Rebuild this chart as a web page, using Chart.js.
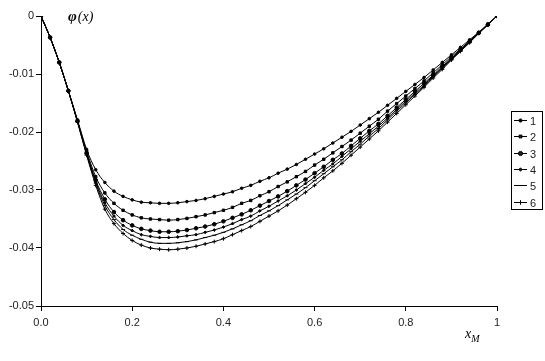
<!DOCTYPE html>
<html>
<head>
<meta charset="utf-8">
<script src="https://cdn.jsdelivr.net/npm/chart.js@4.4.0/dist/chart.umd.min.js"></script>
<style>
  html, body { margin: 0; padding: 0; background: #fff; }
  #wrap { width: 545px; height: 361px; position: relative; }
</style>
</head>
<body>
<div id="wrap"><canvas id="phiChart"></canvas></div>
<script>
// x grid (x_M)
const xValues = [0, 0.02, 0.04, 0.06, 0.08, 0.10, 0.12, 0.14, 0.16, 0.18,
  0.20, 0.22, 0.24, 0.26, 0.28, 0.30, 0.32, 0.34, 0.36, 0.38,
  0.40, 0.42, 0.44, 0.46, 0.48, 0.50, 0.52, 0.54, 0.56, 0.58,
  0.60, 0.62, 0.64, 0.66, 0.68, 0.70, 0.72, 0.74, 0.76, 0.78,
  0.80, 0.82, 0.84, 0.86, 0.88, 0.90, 0.92, 0.94, 0.96, 0.98, 1.00];

// phi(x) for curves 1..6
const phi1 = [0, -0.0037, -0.0080, -0.0129, -0.0179, -0.0230, -0.0265, -0.0287, -0.0302, -0.0311,
  -0.0317, -0.0321, -0.0322, -0.0323, -0.0323, -0.0322, -0.0320, -0.0318, -0.0315, -0.0311,
  -0.0307, -0.0303, -0.0297, -0.0292, -0.0285, -0.0279, -0.0271, -0.0264, -0.0256, -0.0247,
  -0.0238, -0.0229, -0.0219, -0.0209, -0.0199, -0.0188, -0.0177, -0.0166, -0.0154, -0.0142,
  -0.0130, -0.0118, -0.0106, -0.0093, -0.0080, -0.0067, -0.0054, -0.0041, -0.0028, -0.0014, 0];
const phi2 = [0, -0.0037, -0.0080, -0.0129, -0.0181, -0.0233, -0.0277, -0.0305, -0.0323, -0.0335,
  -0.0343, -0.0348, -0.0350, -0.0351, -0.0352, -0.0351, -0.0349, -0.0346, -0.0343, -0.0339,
  -0.0335, -0.0330, -0.0323, -0.0318, -0.0310, -0.0303, -0.0294, -0.0286, -0.0277, -0.0268,
  -0.0257, -0.0247, -0.0236, -0.0225, -0.0214, -0.0202, -0.0190, -0.0178, -0.0164, -0.0151,
  -0.0138, -0.0125, -0.0112, -0.0098, -0.0084, -0.0070, -0.0057, -0.0043, -0.0029, -0.0014, 0];
const phi3 = [0, -0.0037, -0.0080, -0.0129, -0.0181, -0.0236, -0.0283, -0.0316, -0.0338, -0.0352,
  -0.0361, -0.0367, -0.0370, -0.0372, -0.0372, -0.0371, -0.0369, -0.0366, -0.0363, -0.0359,
  -0.0354, -0.0348, -0.0342, -0.0335, -0.0327, -0.0319, -0.0311, -0.0302, -0.0292, -0.0282,
  -0.0271, -0.0260, -0.0248, -0.0237, -0.0224, -0.0211, -0.0198, -0.0186, -0.0172, -0.0158,
  -0.0144, -0.0130, -0.0116, -0.0102, -0.0087, -0.0073, -0.0058, -0.0044, -0.0029, -0.0015, 0];
const phi4 = [0, -0.0037, -0.0080, -0.0129, -0.0182, -0.0237, -0.0286, -0.0322, -0.0345, -0.0361,
  -0.0370, -0.0377, -0.0380, -0.0382, -0.0382, -0.0381, -0.0379, -0.0377, -0.0373, -0.0369,
  -0.0364, -0.0358, -0.0351, -0.0345, -0.0336, -0.0328, -0.0319, -0.0310, -0.0300, -0.0289,
  -0.0278, -0.0266, -0.0255, -0.0242, -0.0229, -0.0216, -0.0203, -0.0190, -0.0176, -0.0161,
  -0.0147, -0.0133, -0.0119, -0.0103, -0.0089, -0.0074, -0.0059, -0.0045, -0.0029, -0.0015, 0];
const phi5 = [0, -0.0037, -0.0080, -0.0129, -0.0182, -0.0238, -0.0288, -0.0327, -0.0351, -0.0368,
  -0.0378, -0.0385, -0.0390, -0.0392, -0.0392, -0.0391, -0.0389, -0.0386, -0.0382, -0.0378,
  -0.0373, -0.0367, -0.0360, -0.0353, -0.0344, -0.0336, -0.0327, -0.0317, -0.0307, -0.0296,
  -0.0284, -0.0272, -0.0260, -0.0248, -0.0234, -0.0221, -0.0207, -0.0194, -0.0179, -0.0164,
  -0.0150, -0.0135, -0.0121, -0.0105, -0.0090, -0.0075, -0.0060, -0.0045, -0.0030, -0.0015, 0];
const phi6 = [0, -0.0037, -0.0080, -0.0129, -0.0183, -0.0240, -0.0292, -0.0333, -0.0358, -0.0375,
  -0.0387, -0.0395, -0.0400, -0.0402, -0.0403, -0.0402, -0.0400, -0.0397, -0.0393, -0.0389,
  -0.0384, -0.0377, -0.0370, -0.0363, -0.0354, -0.0345, -0.0336, -0.0326, -0.0315, -0.0304,
  -0.0292, -0.0279, -0.0267, -0.0254, -0.0240, -0.0226, -0.0212, -0.0198, -0.0183, -0.0168,
  -0.0153, -0.0138, -0.0123, -0.0107, -0.0092, -0.0076, -0.0061, -0.0046, -0.0030, -0.0015, 0];

const seriesNames = ['1', '2', '3', '4', '5', '6'];
const seriesValues = [phi1, phi2, phi3, phi4, phi5, phi6];
const markerStyles = ['circle', 'rect', 'circle', 'rectRot', 'line', 'cross'];
const markerSizes = [1.3, 1.7, 1.8, 1.4, 2, 2];

const yTicks = [0, -0.01, -0.02, -0.03, -0.04, -0.05];
const xTicks = [0, 0.2, 0.4, 0.6, 0.8, 1];

const tickFont = { family: "'Liberation Sans', Arial, sans-serif", size: 11 };

// Legend box with border, drawn by hand to match the original
const boxLegend = {
    id: 'boxLegend',
    afterDatasetsDraw(chart) {
        const ctx = chart.ctx;
        const left = 511.5, top = 111.5, w = 31, h = 98;
        ctx.save();
        ctx.strokeStyle = '#000';
        ctx.lineWidth = 1;
        ctx.strokeRect(left, top, w, h);
        ctx.font = "11px 'Liberation Sans', Arial, sans-serif";
        ctx.textBaseline = 'middle';
        chart.data.datasets.forEach((ds, i) => {
            const y = Math.round(120 + i * 16.3) + 0.5;
            ctx.beginPath();
            ctx.moveTo(514, y);
            ctx.lineTo(527, y);
            ctx.strokeStyle = '#000';
            ctx.lineWidth = 1;
            ctx.stroke();
            Chart.helpers.drawPoint(ctx, {
                pointStyle: ds.pointStyle, radius: ds.pointRadius + 0.3, rotation: 0, borderWidth: 1
            }, 520.5, y);
            ctx.fillStyle = '#222';
            ctx.fillText(ds.label, 530, y + 1);
        });
        ctx.restore();
    }
};

// Axis titles: phi(x) and x_M
const axisTitles = {
    id: 'axisTitles',
    afterDraw(chart) {
        const ctx = chart.ctx;
        ctx.save();
        ctx.fillStyle = '#000';
        ctx.textBaseline = 'alphabetic';
        ctx.font = "bold italic 15px 'Liberation Serif', 'Times New Roman', serif";
        ctx.fillText('φ', 68, 21);
        const pw = ctx.measureText('φ').width;
        ctx.font = "italic 14px 'Liberation Serif', 'Times New Roman', serif";
        ctx.fillText('(x)', 68 + pw + 1, 21);

        ctx.font = "italic 14px 'Liberation Serif', 'Times New Roman', serif";
        ctx.fillText('x', 465, 338);
        const xw = ctx.measureText('x').width;
        ctx.font = "italic 10px 'Liberation Serif', 'Times New Roman', serif";
        ctx.fillText('M', 465 + xw, 342);
        ctx.restore();
    }
};

const datasets = seriesValues.map((vals, i) => ({
    label: seriesNames[i],
    data: xValues.map((x, j) => ({ x: x, y: vals[j] })),
    borderColor: '#000',
    backgroundColor: '#000',
    borderWidth: 1,
    pointStyle: markerStyles[i],
    pointRadius: markerSizes[i],
    pointBorderWidth: 1,
    pointBorderColor: '#000',
    pointBackgroundColor: '#000',
    cubicInterpolationMode: 'monotone',
    fill: false
}));

const ctx = document.getElementById('phiChart').getContext('2d');
const phiChart = new Chart(ctx, {
    type: 'line',
    data: { datasets: datasets },
    options: {
        responsive: true,
        maintainAspectRatio: false,
        animation: false,
        layout: { padding: { top: 16, right: 48, left: 0, bottom: 0 } },
        plugins: {
            legend: { display: false },
            tooltip: { enabled: false }
        },
        scales: {
            x: {
                type: 'linear',
                min: 0,
                max: 1,
                afterFit: s => { s.height = 55; },
                afterBuildTicks: s => { s.ticks = xTicks.map(v => ({ value: v })); },
                grid: { display: true, drawOnChartArea: false, drawTicks: true, tickLength: 5, color: '#000' },
                border: { display: true, color: '#000', width: 1 },
                ticks: {
                    padding: 5,
                    color: '#222',
                    font: tickFont,
                    maxRotation: 0,
                    callback: v => (v === 1 ? '1' : v.toFixed(1))
                }
            },
            y: {
                type: 'linear',
                min: -0.05,
                max: 0,
                afterFit: s => { s.width = 41; },
                afterBuildTicks: s => { s.ticks = yTicks.map(v => ({ value: v })); },
                grid: { display: true, drawOnChartArea: false, drawTicks: true, tickLength: 5, color: '#000' },
                border: { display: true, color: '#000', width: 1 },
                ticks: {
                    padding: 2,
                    color: '#222',
                    font: tickFont,
                    callback: v => (v === 0 ? '0' : v.toFixed(2))
                }
            }
        }
    },
    plugins: [boxLegend, axisTitles]
});
</script>
</body>
</html>
